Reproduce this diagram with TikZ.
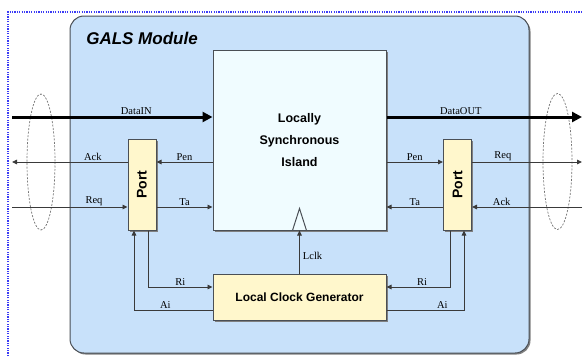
\documentclass[tikz,border=0pt]{standalone}
\usepackage{fontspec}
\setmainfont{Liberation Serif}
\setsansfont{Liberation Sans}
\usetikzlibrary{arrows.meta,shadows}
\definecolor{galsBlue}{HTML}{C8E1FA}
\definecolor{galsIsland}{HTML}{F0FCFF}
\definecolor{galsYellow}{HTML}{FFF7CC}
\definecolor{galsEdge}{HTML}{4A4F55}
\definecolor{galsWire}{HTML}{3A3A3A}
\definecolor{galsFrame}{HTML}{3B3BF5}
\tikzset{
  wire/.style={-{Triangle[length=5pt,width=4.5pt]}, draw=galsWire,
    line width=0.9pt},
  bus/.style={-{Triangle[length=10pt,width=10pt]}, draw=black,
    line width=3pt},
  sig label/.style={font=\fontsize{10.5}{12}\selectfont, inner sep=1pt,
    above},
  block/.style={draw=galsEdge, line width=1pt,
    drop shadow={shadow xshift=1.5pt, shadow yshift=-1.5pt,
    fill=black!50, opacity=1}},
  module/.style={block, fill=galsBlue, rounded corners=14pt,
    minimum width=459pt, minimum height=337pt},
  island/.style={block, fill=galsIsland, minimum width=173pt,
    minimum height=180pt, align=center,
    font=\sffamily\bfseries\fontsize{12.5}{22}\selectfont},
  port box/.style={block, fill=galsYellow, minimum width=28pt,
    minimum height=91pt, inner sep=0pt},
  port text/.style={font=\sffamily\bfseries\fontsize{14}{16}\selectfont,
    inner sep=0pt},
  clock gen/.style={block, fill=galsYellow, minimum width=173pt,
    minimum height=46pt,
    font=\sffamily\bfseries\fontsize{12}{15}\selectfont},
  title/.style={font=\sffamily\bfseries\itshape\fontsize{17}{20}\selectfont},
  link loop/.style={draw=black!55, line width=0.7pt,
    dash pattern=on 2pt off 1.5pt},
  frame/.style={draw=galsFrame, line width=1.5pt,
    dash pattern=on 1.2pt off 1.2pt}
}
\begin{document}
\begin{tikzpicture}[x=1pt,y=-1pt]
  \useasboundingbox (0,0) rectangle (583,356);
  \draw[frame] (8,356) -- (8,12) -- (583,12);

  \node[module] (gals) at (299.5,184.5) {};
  \node[title] (ttl) at (142,38) {GALS Module};
  \node[island] (isl) at (299.5,140) {Locally\\Synchronous\\Island};
  \node[port box] (pL) at (142,184.5) {};
  \node[port text, rotate=90] (pLt) at (pL) {Port};
  \node[port box] (pR) at (457.5,184.5) {};
  \node[port text, rotate=90] (pRt) at (pR) {Port};
  \node[clock gen] (lcg) at (299.5,297) {Local Clock Generator};

  \coordinate (din) at (12,117);
  \coordinate (dout) at (582,117);
  \coordinate (hi) at (0,162);
  \coordinate (lo) at (0,207);
  \coordinate (edgeL) at (12,0);
  \coordinate (edgeR) at (582,0);

  \draw[link loop] (41,162) ellipse [x radius=14, y radius=68];
  \draw[link loop] (557.5,161.5) ellipse [x radius=14.5, y radius=68];

  % data path
  \draw[bus] (din) -- (isl.west |- din) node[sig label, pos=.62] {DataIN};
  \draw[bus] (isl.east |- dout) -- (dout) node[sig label, pos=.38] {DataOUT};

  % left port
  \draw[wire] (pL.west |- hi) -- (edgeL |- hi) node[sig label, pos=.3] {Ack};
  \draw[wire] (isl.west |- hi) -- (pL.east |- hi) node[sig label, midway] {Pen};
  \draw[wire] (edgeL |- lo) -- (pL.west |- lo) node[sig label, pos=.71] {Req};
  \draw[wire] (pL.east |- lo) -- (isl.west |- lo) node[sig label, midway] {Ta};

  % right port
  \draw[wire] (isl.east |- hi) -- (pR.west |- hi) node[sig label, midway] {Pen};
  \draw[wire] (pR.east |- hi) -- (edgeR |- hi) node[sig label, pos=.28] {Req};
  \draw[wire] (pR.west |- lo) -- (isl.east |- lo) node[sig label, midway] {Ta};
  \draw[wire] (edgeR |- lo) -- (pR.east |- lo) node[sig label, pos=.73] {Ack};

  % clock handshake
  \draw[wire] ([xshift=6pt]pL.south) |- ([yshift=10pt]lcg.west)
    node[sig label, pos=.75] {Ri};
  \draw[wire] ([yshift=-13pt]lcg.west) -| ([xshift=-8pt]pL.south)
    node[sig label, pos=.3] {Ai};
  \draw[wire] ([xshift=-7.5pt]pR.south) |- ([yshift=10pt]lcg.east)
    node[sig label, pos=.72] {Ri};
  \draw[wire] ([yshift=-13pt]lcg.east) -| ([xshift=6.5pt]pR.south)
    node[sig label, pos=.36] {Ai};
  \draw[wire] (lcg.north) -- (isl.south)
    node[sig label, anchor=west, pos=.4, xshift=2pt] {Lclk};
  \draw[galsEdge, line width=1pt] ([xshift=-7pt]isl.south)
    -- ([yshift=22pt]isl.south) -- ([xshift=7pt]isl.south);
\end{tikzpicture}
\end{document}
